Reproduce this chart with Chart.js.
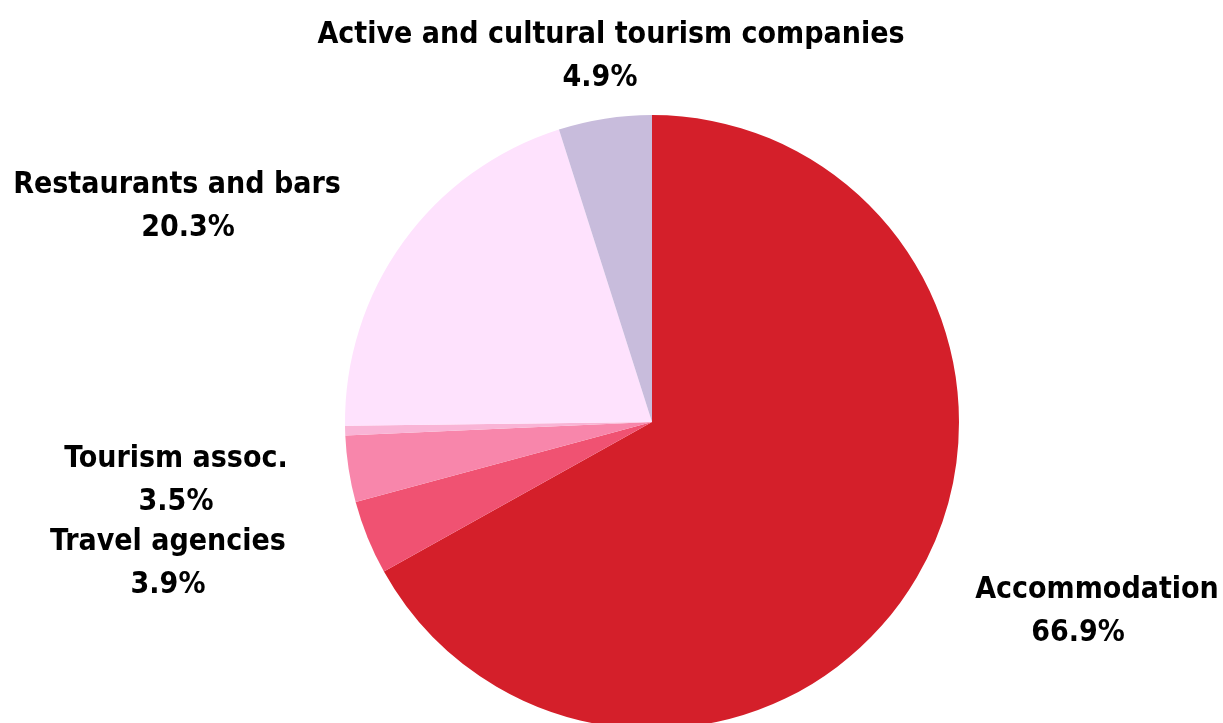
<!DOCTYPE html>
<html>
<head>
<meta charset="utf-8">
<script src="https://cdn.jsdelivr.net/npm/chart.js@4"></script>
<style>
  html, body { margin: 0; padding: 0; background: #fff; overflow: hidden; }
  #wrap { position: relative; width: 1223px; height: 760px; }
</style>
</head>
<body>
<div id="wrap"><canvas id="pie"></canvas></div>
<script>
// Share of tourism businesses by sector (%)
const sectors = ["Accommodation", "Travel agencies", "Tourism assoc.", "Other", "Restaurants and bars", "Active and cultural tourism companies"];
const shares = [66.9, 3.9, 3.5, 0.5, 20.3, 4.9];
const sliceColors = ["#D41F2A", "#F05272", "#F886AB", "#F9B4D6", "#FEE2FD", "#C8BCDC"];
const showLabel = [true, true, true, false, true, true];

// where each label block is centred (name line, value line)
const labelSpots = [
  { x: 1097, y: 590, vx: 1078 },
  { x: 168, y: 542, vx: 168 },
  { x: 176, y: 459, vx: 176 },
  null,
  { x: 177, y: 185, vx: 188 },
  { x: 611, y: 35, vx: 600 }
];

const sliceLabels = {
  id: "sliceLabels",
  afterDraw(chart) {
    const ctx = chart.ctx;
    ctx.save();
    ctx.font = "bold 30px 'DejaVu Sans Condensed', 'DejaVu Sans', sans-serif";
    ctx.fillStyle = "#000";
    ctx.textAlign = "center";
    ctx.textBaseline = "middle";
    sectors.forEach((name, i) => {
      const p = labelSpots[i];
      if (!showLabel[i] || !p) return;
      ctx.fillText(name, p.x, p.y);
      ctx.fillText(shares[i].toFixed(1) + "%", p.vx, p.y + 43);
    });
    ctx.restore();
  }
};

new Chart(document.getElementById("pie"), {
  type: "pie",
  data: {
    labels: sectors,
    datasets: [{
      data: shares,
      backgroundColor: sliceColors,
      borderWidth: 0
    }]
  },
  options: {
    responsive: true,
    maintainAspectRatio: false,
    animation: false,
    layout: { padding: { top: 115, bottom: 31, left: 345, right: 264 } },
    plugins: {
      legend: { display: false },
      tooltip: { enabled: false }
    }
  },
  plugins: [sliceLabels]
});
</script>
</body>
</html>
